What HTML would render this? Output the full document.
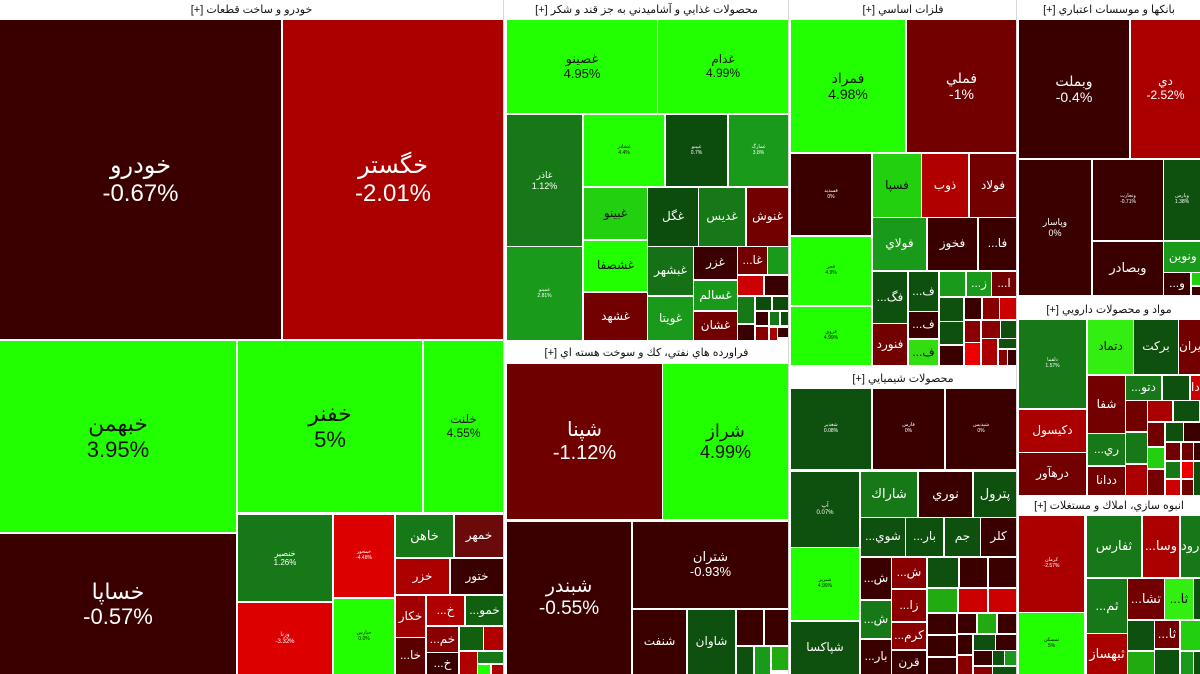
<!DOCTYPE html>
<html><head><meta charset="utf-8">
<style>
html,body{margin:0;padding:0;background:#fff;}
body{width:1200px;height:674px;position:relative;overflow:hidden;font-family:"Liberation Sans","DejaVu Sans",sans-serif;}
.h{position:absolute;background:#fff;color:#111;font-size:11px;display:flex;align-items:center;justify-content:center;white-space:nowrap;overflow:hidden;direction:rtl;}
.t{position:absolute;display:flex;flex-direction:column;align-items:center;justify-content:center;text-align:center;overflow:hidden;line-height:1.15;white-space:nowrap;color:#fff;font-size:12px;}
.k{color:#111;}
.D{background:#3a0000}.M{background:#720000}.R{background:#aa0000}.RR{background:#dd0000}
.G{background:#22ff00}.G2{background:#22d010}.G3{background:#1a9a1a}.G4{background:#167816}.G5{background:#0c4c0c}
.sep{position:absolute;background:#d8d8d8;}
</style></head><body>

<div class="sep" style="left:503px;top:0;width:1px;height:674px"></div>
<div class="sep" style="left:788px;top:0;width:1px;height:674px"></div>
<div class="sep" style="left:1016px;top:0;width:1px;height:674px"></div>

<!-- AUTO -->
<div class="h" style="left:0;top:0;width:503px;height:19px">خودرو و ساخت قطعات [+]</div>
<div class="t D" style="left:0;top:20px;width:281px;height:319px;font-size:24px">خودرو<br>-0.67%</div>
<div class="t R" style="left:283px;top:20px;width:220px;height:319px;font-size:24px">خگستر<br>-2.01%</div>
<div class="t G k" style="left:0;top:341px;width:236px;height:191px;font-size:22px">خبهمن<br>3.95%</div>
<div class="t G k" style="left:238px;top:341px;width:184px;height:171px;font-size:22px">خفنر<br>5%</div>
<div class="t G k" style="left:424px;top:341px;width:79px;height:171px;font-size:12px">خلنت<br>4.55%</div>
<div class="t D" style="left:0;top:534px;width:236px;height:140px;font-size:22px">خساپا<br>-0.57%</div>
<div class="t G4" style="left:238px;top:515px;width:94px;height:86px;font-size:8px">خنصير<br>1.26%</div>
<div class="t RR" style="left:238px;top:603px;width:94px;height:71px;font-size:6px">ورنا<br>-3.32%</div>
<div class="t RR" style="left:334px;top:515px;width:60px;height:82px;font-size:5px">خمحور<br>-4.48%</div>
<div class="t G k" style="left:334px;top:599px;width:60px;height:75px;font-size:5px">خپارس<br>0.0%</div>
<div class="t G4" style="left:396px;top:515px;width:57px;height:42px;font-size:13px">خاهن</div>
<div class="t" style="left:455px;top:515px;width:48px;height:42px;background:#6a0a0a">خمهر</div>
<div class="t R" style="left:396px;top:559px;width:53px;height:35px">خزر</div>
<div class="t D" style="left:451px;top:559px;width:52px;height:35px">ختور</div>
<div class="t" style="left:396px;top:596px;width:29px;height:41px;background:#a00000">خكار</div>
<div class="t" dir="rtl" style="left:427px;top:596px;width:37px;height:29px;background:#b00000">خ...</div>
<div class="t" dir="rtl" style="left:466px;top:596px;width:37px;height:29px;background:#106010">خمو...</div>
<div class="t" dir="rtl" style="left:427px;top:627px;width:31px;height:25px;background:#8a0000">خم...</div>
<div class="t" style="left:460px;top:627px;width:23px;height:23px;background:#106010"></div>
<div class="t" style="left:484px;top:627px;width:19px;height:23px;background:#b00000"></div>
<div class="t" dir="rtl" style="left:396px;top:638px;width:29px;height:36px;background:#5a0000">خا...</div>
<div class="t D" dir="rtl" style="left:427px;top:653px;width:31px;height:21px">خ...</div>
<div class="t" style="left:460px;top:652px;width:17px;height:22px;background:#b00000"></div>
<div class="t G4" style="left:478px;top:652px;width:25px;height:11px"></div>
<div class="t G" style="left:478px;top:665px;width:12px;height:9px"></div>
<div class="t R" style="left:492px;top:665px;width:11px;height:9px"></div>

<!-- FOOD -->
<div class="h" style="left:505px;top:0;width:283px;height:19px">محصولات غذايي و آشاميدني به جز قند و شكر [+]</div>
<div class="t G k" style="left:507px;top:20px;width:150px;height:93px;font-size:13px">غصينو<br>4.95%</div>
<div class="t G k" style="left:658px;top:20px;width:130px;height:93px;font-size:12px">غدام<br>4.99%</div>
<div class="t G4" style="left:507px;top:115px;width:75px;height:131px;font-size:9px">غاذر<br>1.12%</div>
<div class="t G k" style="left:584px;top:115px;width:80px;height:71px;font-size:5px">غشاذر<br>4.4%</div>
<div class="t G5" style="left:666px;top:115px;width:61px;height:71px;font-size:5px">غپينو<br>0.7%</div>
<div class="t G3" style="left:729px;top:115px;width:59px;height:71px;font-size:5px">غمارگ<br>3.8%</div>
<div class="t G2 k" style="left:584px;top:188px;width:63px;height:51px">غبينو</div>
<div class="t G5" style="left:648px;top:188px;width:50px;height:58px">غگل</div>
<div class="t G4" style="left:699px;top:188px;width:46px;height:58px">غديس</div>
<div class="t M" style="left:747px;top:188px;width:41px;height:58px">غنوش</div>
<div class="t G k" style="left:584px;top:241px;width:63px;height:50px">غشصفا</div>
<div class="t G3" style="left:507px;top:247px;width:75px;height:93px;font-size:5px">غمينو<br>2.81%</div>
<div class="t M" style="left:584px;top:293px;width:63px;height:47px">غشهد</div>
<div class="t" style="left:648px;top:247px;width:45px;height:48px;background:#167016">غبشهر</div>
<div class="t G3" style="left:648px;top:297px;width:45px;height:43px">غويتا</div>
<div class="t D" style="left:694px;top:247px;width:43px;height:32px">غزر</div>
<div class="t G3" style="left:694px;top:281px;width:43px;height:29px">غسالم</div>
<div class="t M" style="left:694px;top:312px;width:43px;height:28px">غشان</div>
<div class="t M" dir="rtl" style="left:738px;top:247px;width:29px;height:27px">غا...</div>
<div class="t G3" style="left:768px;top:247px;width:20px;height:27px"></div>
<div class="t" style="left:738px;top:276px;width:25px;height:19px;background:#cc0000"></div>
<div class="t D" style="left:765px;top:276px;width:23px;height:19px"></div>
<div class="t G4" style="left:738px;top:297px;width:16px;height:26px"></div>
<div class="t G5" style="left:756px;top:297px;width:15px;height:13px"></div>
<div class="t G5" style="left:773px;top:297px;width:15px;height:13px"></div>
<div class="t D" style="left:756px;top:312px;width:12px;height:13px"></div>
<div class="t G4" style="left:770px;top:312px;width:9px;height:13px"></div>
<div class="t G5" style="left:781px;top:312px;width:7px;height:13px"></div>
<div class="t D" style="left:738px;top:325px;width:16px;height:15px"></div>
<div class="t" style="left:756px;top:327px;width:12px;height:13px;background:#8a0000"></div>
<div class="t R" style="left:770px;top:328px;width:7px;height:12px"></div>
<div class="t D" style="left:778px;top:328px;width:10px;height:9px"></div>

<!-- OIL -->
<div class="h" style="left:505px;top:342px;width:283px;height:20px">فراورده هاي نفتي، كك و سوخت هسته اي [+]</div>
<div class="t" style="left:507px;top:364px;width:155px;height:155px;background:#6e0000;font-size:20px">شپنا<br>-1.12%</div>
<div class="t G k" style="left:663px;top:364px;width:125px;height:155px;font-size:18px">شراز<br>4.99%</div>
<div class="t D" style="left:507px;top:522px;width:124px;height:152px;font-size:19px">شبندر<br>-0.55%</div>
<div class="t D" style="left:633px;top:522px;width:155px;height:86px;font-size:13px">شتران<br>-0.93%</div>
<div class="t D" style="left:633px;top:610px;width:53px;height:64px">شنفت</div>
<div class="t" style="left:688px;top:610px;width:47px;height:64px;background:#0e500e">شاوان</div>
<div class="t D" style="left:737px;top:610px;width:26px;height:35px"></div>
<div class="t D" style="left:765px;top:610px;width:23px;height:35px"></div>
<div class="t" style="left:737px;top:647px;width:16px;height:27px;background:#0e500e"></div>
<div class="t G3" style="left:755px;top:647px;width:15px;height:27px"></div>
<div class="t" style="left:772px;top:647px;width:16px;height:23px;background:#22aa11"></div>

<!-- METALS -->
<div class="h" style="left:790px;top:0;width:226px;height:19px">فلزات اساسي [+]</div>
<div class="t G k" style="left:791px;top:20px;width:114px;height:132px;font-size:14px">فمراد<br>4.98%</div>
<div class="t M" style="left:907px;top:20px;width:109px;height:132px;font-size:14px">فملي<br>-1%</div>
<div class="t D" style="left:791px;top:154px;width:80px;height:81px;font-size:5px">فسديد<br>0%</div>
<div class="t G2 k" style="left:873px;top:154px;width:48px;height:63px">فسپا</div>
<div class="t" style="left:922px;top:154px;width:46px;height:63px;background:#b00000">ذوب</div>
<div class="t M" style="left:970px;top:154px;width:46px;height:63px">فولاد</div>
<div class="t G k" style="left:791px;top:237px;width:80px;height:68px;font-size:5px">فجر<br>4.9%</div>
<div class="t G k" style="left:791px;top:307px;width:80px;height:58px;font-size:5px">فروي<br>4.99%</div>
<div class="t G3" style="left:873px;top:218px;width:53px;height:52px">فولاي</div>
<div class="t D" style="left:928px;top:218px;width:49px;height:52px">فخوز</div>
<div class="t D" dir="rtl" style="left:979px;top:218px;width:37px;height:52px">فا...</div>
<div class="t" dir="rtl" style="left:873px;top:272px;width:34px;height:51px;background:#0e500e">فگ...</div>
<div class="t" dir="rtl" style="left:909px;top:272px;width:29px;height:39px;background:#0e500e">ف...</div>
<div class="t D" dir="rtl" style="left:909px;top:312px;width:29px;height:26px">ف...</div>
<div class="t k" dir="rtl" style="left:909px;top:340px;width:29px;height:25px;background:#33dd11">ف...</div>
<div class="t M" style="left:873px;top:324px;width:34px;height:41px">فنورد</div>
<div class="t G3" style="left:940px;top:272px;width:25px;height:24px"></div>
<div class="t G3" dir="rtl" style="left:967px;top:272px;width:24px;height:24px">ز...</div>
<div class="t M" dir="rtl" style="left:992px;top:272px;width:24px;height:24px">ا...</div>
<div class="t" style="left:940px;top:298px;width:23px;height:23px;background:#0e500e"></div>
<div class="t D" style="left:965px;top:298px;width:16px;height:21px"></div>
<div class="t" style="left:983px;top:298px;width:16px;height:21px;background:#8a0000"></div>
<div class="t" style="left:1000px;top:298px;width:16px;height:21px;background:#cc0000"></div>
<div class="t" style="left:940px;top:322px;width:23px;height:22px;background:#0e500e"></div>
<div class="t D" style="left:940px;top:346px;width:23px;height:19px"></div>
<div class="t" style="left:965px;top:321px;width:15px;height:21px;background:#8a0000"></div>
<div class="t" style="left:965px;top:343px;width:15px;height:22px;background:#ee0000"></div>
<div class="t" style="left:982px;top:321px;width:18px;height:17px;background:#8a0000"></div>
<div class="t" style="left:1001px;top:321px;width:15px;height:17px;background:#0e500e"></div>
<div class="t R" style="left:982px;top:339px;width:15px;height:26px"></div>
<div class="t" style="left:999px;top:339px;width:17px;height:9px;background:#0e500e"></div>
<div class="t" style="left:999px;top:350px;width:8px;height:15px;background:#8a0000"></div>
<div class="t D" style="left:1008px;top:350px;width:8px;height:15px"></div>

<!-- CHEMICAL -->
<div class="h" style="left:790px;top:368px;width:226px;height:20px">محصولات شيميايي [+]</div>
<div class="t" style="left:791px;top:389px;width:80px;height:80px;background:#0e500e;font-size:5px">شغدير<br>0.08%</div>
<div class="t D" style="left:873px;top:389px;width:71px;height:80px;font-size:5px">فارس<br>0%</div>
<div class="t D" style="left:946px;top:389px;width:70px;height:80px;font-size:5px">شپديس<br>0%</div>
<div class="t" style="left:791px;top:472px;width:68px;height:75px;background:#0e500e;font-size:6px">آپ<br>0.07%</div>
<div class="t G4" style="left:861px;top:472px;width:56px;height:45px;font-size:13px">شاراك</div>
<div class="t D" style="left:919px;top:472px;width:53px;height:45px;font-size:13px">نوري</div>
<div class="t" style="left:974px;top:472px;width:42px;height:45px;background:#0e500e;font-size:13px">پترول</div>
<div class="t" dir="rtl" style="left:861px;top:518px;width:44px;height:38px;background:#0e500e">شوي...</div>
<div class="t" dir="rtl" style="left:906px;top:518px;width:37px;height:38px;background:#0e500e">بار...</div>
<div class="t" style="left:945px;top:518px;width:35px;height:38px;background:#0e500e">جم</div>
<div class="t D" style="left:981px;top:518px;width:35px;height:38px">كلر</div>
<div class="t G k" style="left:791px;top:548px;width:68px;height:72px;font-size:5px">شبريز<br>4.99%</div>
<div class="t" style="left:791px;top:622px;width:68px;height:52px;background:#0e500e">شپاكسا</div>
<div class="t D" dir="rtl" style="left:861px;top:558px;width:30px;height:41px">ش...</div>
<div class="t G4" dir="rtl" style="left:861px;top:601px;width:30px;height:37px">ش...</div>
<div class="t D" dir="rtl" style="left:861px;top:640px;width:30px;height:34px">بار...</div>
<div class="t" dir="rtl" style="left:892px;top:558px;width:34px;height:30px;background:#8a0000">ش...</div>
<div class="t" dir="rtl" style="left:892px;top:590px;width:34px;height:31px;background:#8a0000">زا...</div>
<div class="t" dir="rtl" style="left:892px;top:623px;width:34px;height:26px;background:#8a0000">كرم...</div>
<div class="t D" style="left:892px;top:651px;width:34px;height:23px">قرن</div>
<div class="t" style="left:928px;top:558px;width:30px;height:29px;background:#0e500e"></div>
<div class="t D" style="left:960px;top:558px;width:27px;height:29px"></div>
<div class="t D" style="left:989px;top:558px;width:27px;height:29px"></div>
<div class="t" style="left:928px;top:589px;width:29px;height:23px;background:#22aa11"></div>
<div class="t" style="left:959px;top:589px;width:28px;height:23px;background:#cc0000"></div>
<div class="t" style="left:989px;top:589px;width:27px;height:23px;background:#cc0000"></div>
<div class="t D" style="left:928px;top:614px;width:28px;height:20px"></div>
<div class="t D" style="left:958px;top:614px;width:18px;height:19px"></div>
<div class="t" style="left:978px;top:614px;width:18px;height:19px;background:#22aa11"></div>
<div class="t D" style="left:998px;top:614px;width:18px;height:19px"></div>
<div class="t D" style="left:928px;top:636px;width:28px;height:20px"></div>
<div class="t D" style="left:928px;top:658px;width:28px;height:16px"></div>
<div class="t D" style="left:958px;top:635px;width:14px;height:19px"></div>
<div class="t" style="left:958px;top:656px;width:14px;height:18px;background:#8a0000"></div>
<div class="t" style="left:974px;top:635px;width:21px;height:15px;background:#0e500e"></div>
<div class="t D" style="left:996px;top:635px;width:20px;height:15px"></div>
<div class="t D" style="left:974px;top:651px;width:18px;height:14px"></div>
<div class="t" style="left:993px;top:651px;width:11px;height:14px;background:#0e500e"></div>
<div class="t G3" style="left:1005px;top:651px;width:11px;height:14px"></div>
<div class="t" style="left:974px;top:667px;width:18px;height:7px;background:#8a0000"></div>
<div class="t" style="left:993px;top:667px;width:23px;height:7px;background:#0e500e"></div>

<!-- BANKS -->
<div class="h" style="left:1018px;top:0;width:182px;height:19px">بانكها و موسسات اعتباري [+]</div>
<div class="t D" style="left:1019px;top:20px;width:110px;height:138px;font-size:14px">وبملت<br>-0.4%</div>
<div class="t R" style="left:1131px;top:20px;width:69px;height:138px;font-size:12px">دي<br>-2.52%</div>
<div class="t D" style="left:1019px;top:160px;width:72px;height:135px;font-size:9px">وپاسار<br>0%</div>
<div class="t D" style="left:1093px;top:160px;width:70px;height:80px;font-size:5px">وتجارت<br>-0.71%</div>
<div class="t" style="left:1164px;top:160px;width:36px;height:80px;background:#0e500e;font-size:5px">وپارس<br>1.38%</div>
<div class="t D" style="left:1093px;top:242px;width:70px;height:53px;font-size:13px">وبصادر</div>
<div class="t G3" style="left:1164px;top:242px;width:36px;height:30px;align-items:flex-end">ونوين&nbsp;</div>
<div class="t D" dir="rtl" style="left:1164px;top:273px;width:26px;height:22px">و...</div>
<div class="t G2" style="left:1192px;top:273px;width:8px;height:12px"></div>
<div class="t D" style="left:1192px;top:287px;width:8px;height:8px"></div>

<!-- PHARMA -->
<div class="h" style="left:1018px;top:300px;width:182px;height:18px">مواد و محصولات دارويي [+]</div>
<div class="t G4" style="left:1019px;top:320px;width:67px;height:88px;font-size:5px">دلقما<br>1.57%</div>
<div class="t k" style="left:1088px;top:320px;width:45px;height:54px;background:#33ee11">دتماد</div>
<div class="t" style="left:1134px;top:320px;width:44px;height:54px;background:#0e500e">بركت</div>
<div class="t M" style="left:1179px;top:320px;width:21px;height:54px;align-items:flex-start">يران</div>
<div class="t R" style="left:1019px;top:410px;width:67px;height:42px">دكيسول</div>
<div class="t M" style="left:1019px;top:453px;width:67px;height:42px">درهآور</div>
<div class="t M" style="left:1088px;top:376px;width:37px;height:57px">شفا</div>
<div class="t G4" dir="rtl" style="left:1126px;top:376px;width:35px;height:24px">دتو...</div>
<div class="t" style="left:1163px;top:376px;width:26px;height:24px;background:#0e500e"></div>
<div class="t" style="left:1191px;top:376px;width:9px;height:24px;background:#cc0000;align-items:flex-start">دا</div>
<div class="t G4" dir="rtl" style="left:1088px;top:434px;width:37px;height:31px">ري...</div>
<div class="t M" style="left:1088px;top:467px;width:37px;height:28px">ددانا</div>
<div class="t M" style="left:1126px;top:401px;width:21px;height:30px"></div>
<div class="t G4" style="left:1126px;top:433px;width:21px;height:30px"></div>
<div class="t R" style="left:1126px;top:465px;width:21px;height:30px"></div>
<div class="t R" style="left:1148px;top:401px;width:24px;height:20px"></div>
<div class="t" style="left:1174px;top:401px;width:25px;height:20px;background:#0e500e"></div>
<div class="t M" style="left:1148px;top:423px;width:16px;height:23px"></div>
<div class="t" style="left:1166px;top:423px;width:17px;height:18px;background:#0e500e"></div>
<div class="t D" style="left:1184px;top:423px;width:16px;height:18px"></div>
<div class="t G2" style="left:1148px;top:448px;width:16px;height:20px"></div>
<div class="t M" style="left:1148px;top:470px;width:16px;height:25px"></div>
<div class="t M" style="left:1166px;top:443px;width:14px;height:17px"></div>
<div class="t M" style="left:1182px;top:443px;width:11px;height:17px"></div>
<div class="t D" style="left:1194px;top:443px;width:6px;height:17px"></div>
<div class="t G4" style="left:1166px;top:462px;width:14px;height:16px"></div>
<div class="t" style="left:1182px;top:462px;width:11px;height:16px;background:#ee0000"></div>
<div class="t" style="left:1166px;top:480px;width:14px;height:15px;background:#cc0000"></div>
<div class="t M" style="left:1182px;top:480px;width:11px;height:15px"></div>
<div class="t" style="left:1194px;top:462px;width:6px;height:33px;background:#0e500e"></div>

<!-- CONSTRUCTION -->
<div class="h" style="left:1018px;top:496px;width:182px;height:19px">انبوه سازي، املاك و مستغلات [+]</div>
<div class="t R" style="left:1019px;top:516px;width:65px;height:96px;font-size:5px">كرمان<br>-2.57%</div>
<div class="t G k" style="left:1019px;top:613px;width:65px;height:61px;font-size:5px">ثمسكن<br>5%</div>
<div class="t G4" style="left:1087px;top:516px;width:54px;height:61px;font-size:13px">ثفارس</div>
<div class="t R" dir="rtl" style="left:1143px;top:516px;width:36px;height:61px;font-size:13px">وسا...</div>
<div class="t G4" style="left:1181px;top:516px;width:19px;height:61px;font-size:13px;align-items:flex-start">رود</div>
<div class="t G4" dir="rtl" style="left:1087px;top:579px;width:40px;height:54px;font-size:13px">ثم...</div>
<div class="t M" dir="rtl" style="left:1128px;top:579px;width:36px;height:40px;font-size:13px">تشا...</div>
<div class="t k" dir="rtl" style="left:1165px;top:579px;width:28px;height:40px;background:#33ee11;font-size:13px">ثا...</div>
<div class="t" style="left:1194px;top:579px;width:6px;height:40px;background:#0e500e"></div>
<div class="t R" style="left:1087px;top:634px;width:40px;height:40px;font-size:13px">ثبهساز</div>
<div class="t" style="left:1128px;top:621px;width:26px;height:29px;background:#0e500e"></div>
<div class="t M" dir="rtl" style="left:1155px;top:621px;width:24px;height:27px;font-size:13px">ثا...</div>
<div class="t G2" style="left:1181px;top:621px;width:19px;height:29px"></div>
<div class="t" style="left:1128px;top:652px;width:26px;height:22px;background:#22aa11"></div>
<div class="t" style="left:1155px;top:650px;width:24px;height:24px;background:#0e500e"></div>
<div class="t G3" style="left:1181px;top:652px;width:12px;height:22px"></div>
<div class="t" style="left:1194px;top:652px;width:6px;height:22px;background:#0e500e"></div>

</body></html>
